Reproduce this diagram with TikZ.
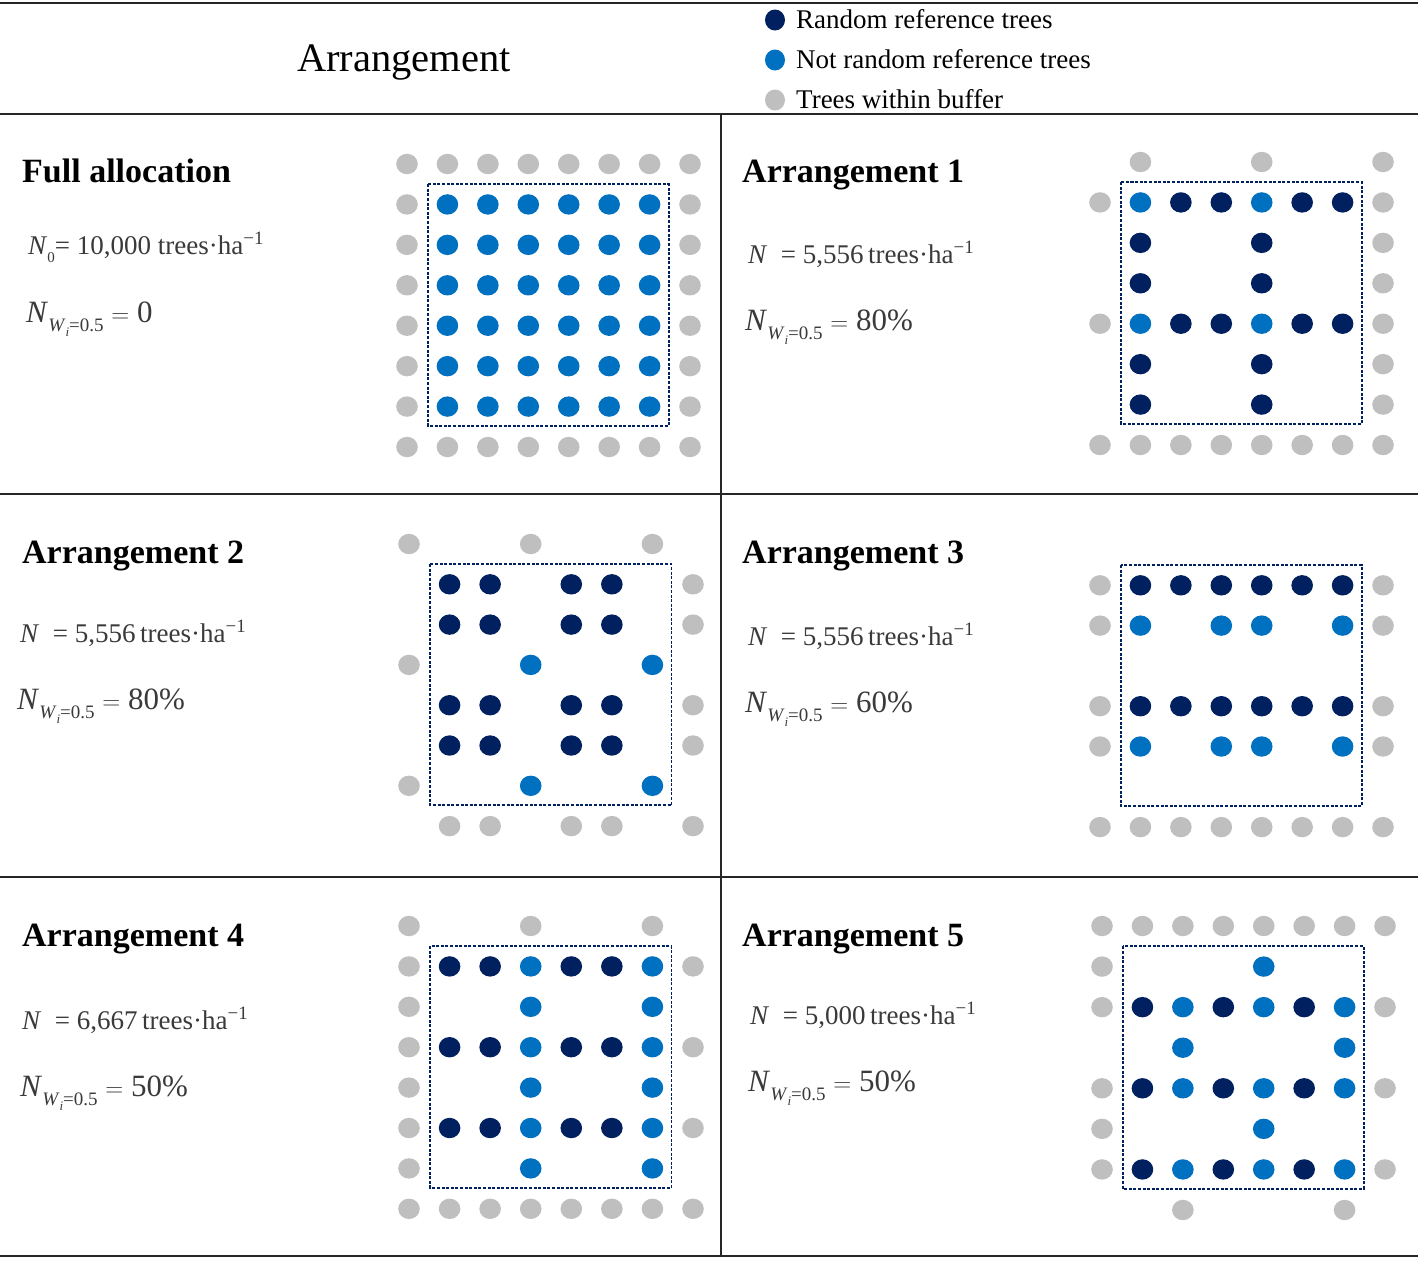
\documentclass[tikz,border=0pt]{standalone}
\usepackage{fontspec}
\setmainfont{Liberation Serif}
\usepackage{graphicx}
\definecolor{navy}{HTML}{002060}
\definecolor{lblue}{HTML}{0070C0}
\definecolor{bgray}{HTML}{BFBFBF}
\definecolor{ftext}{HTML}{3A3A3A}
\tikzset{
  rule/.style={line width=2pt, black!85},
  plotbox/.style={draw=navy, line width=1.9pt, dash pattern=on 3pt off 1.6pt},
  ptitle/.style={anchor=base west, inner sep=0pt, font=\fontsize{34}{40}\selectfont\bfseries},
  fline/.style={anchor=base west, inner sep=0pt, text=ftext, font=\fontsize{27}{30}\selectfont},
  wline/.style={anchor=base west, inner sep=0pt, text=ftext, font=\fontsize{31}{34}\selectfont},
  legtext/.style={anchor=base west, inner sep=0pt, font=\fontsize{27}{30}\selectfont},
}
\newcommand{\GD}[1]{\foreach \cc/\rr in {#1} \fill[bgray] (\cc,\rr) ellipse[x radius=10.8pt, y radius=10.2pt];}
\newcommand{\LD}[1]{\foreach \cc/\rr in {#1} \fill[lblue] (\cc,\rr) ellipse[x radius=10.8pt, y radius=10.2pt];}
\newcommand{\DD}[1]{\foreach \cc/\rr in {#1} \fill[navy] (\cc,\rr) ellipse[x radius=10.8pt, y radius=10.2pt];}
\newcommand{\PBOX}{\draw[plotbox] (0.52,0.5) rectangle (6.47,6.48);}
\newcommand{\NWsub}{\textit{N}\raisebox{-0.3em}{\fontsize{19}{19}\selectfont\textit{W}\raisebox{-0.26em}{\fontsize{13}{13}\selectfont\textit{i}}=0.5}}
\newcommand{\perha}{trees·ha\textsuperscript{−1}}
\begin{document}
\begin{tikzpicture}[x=1pt, y=-1pt]
\useasboundingbox (0,0) rectangle (1418,1262);
\fill[white] (0,0) rectangle (1418,1262);
% table rules
\coordinate (tl) at (0,3);   \coordinate (tr) at (1418,3);
\coordinate (hl) at (0,114); \coordinate (hr) at (1418,114);
\coordinate (m1l) at (0,494); \coordinate (m1r) at (1418,494);
\coordinate (m2l) at (0,877); \coordinate (m2r) at (1418,877);
\coordinate (bl) at (0,1256); \coordinate (br) at (1418,1256);
\coordinate (vt) at (721,114); \coordinate (vb) at (721,1256);
\draw[rule, line width=2.8pt] (tl) -- (tr);
\draw[rule, line width=2.8pt] (hl) -- (hr);
\draw[rule] (m1l) -- (m1r);
\draw[rule] (m2l) -- (m2r);
\draw[rule] (bl) -- (br);
\draw[rule] (vt) -- (vb);
% header
\node[anchor=base, inner sep=0pt, font=\fontsize{40.5}{46}\selectfont] (hdr) at (404,71) {Arrangement};
\fill[navy]  (775,20) ellipse[x radius=10pt, y radius=10.5pt];
\fill[lblue] (775,60) ellipse[x radius=10pt, y radius=10.5pt];
\fill[bgray] (775,100) ellipse[x radius=10pt, y radius=10.5pt];
\node[legtext] (lg1) at (796,28) {Random reference trees};
\node[legtext] (lg2) at (796,68) {Not random reference trees};
\node[legtext] (lg3) at (796,108) {Trees within buffer};
% ---------- Full allocation ----------
\node[ptitle] (t0) at (22,182) {Full allocation};
\node[fline] (a0) at (28,254) {\textit{N}\raisebox{-0.3em}{\fontsize{15}{15}\selectfont 0}= 10,000 \perha};
\node[wline] (b0) at (26,322) {\NWsub\ $=$ 0};
\begin{scope}[shift={(407pt,-164pt)}, x=40.43pt, y=-40.43pt]
\GD{0/0,1/0,2/0,3/0,4/0,5/0,6/0,7/0, 0/1,0/2,0/3,0/4,0/5,0/6, 7/1,7/2,7/3,7/4,7/5,7/6, 0/7,1/7,2/7,3/7,4/7,5/7,6/7,7/7}
\foreach \c in {1,...,6}{\foreach \r in {1,...,6}{\fill[lblue] (\c,\r) ellipse[x radius=10.8pt, y radius=10.2pt];}}
\PBOX
\end{scope}
% ---------- Arrangement 1 ----------
\node[ptitle] (t1) at (742,182) {Arrangement 1};
\node[fline] (a1) at (748,263) {\textit{N}\hspace{0.5em}= 5,556\,\perha};
\node[wline] (b1) at (745,330) {\NWsub\ $=$ 80\%};
\begin{scope}[shift={(1100pt,-162pt)}, x=40.43pt, y=-40.43pt]
\GD{1/0,4/0,7/0, 0/1,0/4, 7/1,7/2,7/3,7/4,7/5,7/6, 0/7,1/7,2/7,3/7,4/7,5/7,6/7,7/7}
\LD{1/1,4/1,1/4,4/4}
\DD{2/1,3/1,5/1,6/1,2/4,3/4,5/4,6/4, 1/2,1/3,1/5,1/6,4/2,4/3,4/5,4/6}
\PBOX
\end{scope}
% ---------- Arrangement 2 ----------
\node[ptitle] (t2) at (22,563) {Arrangement 2};
\node[fline] (a2) at (20,642) {\textit{N}\hspace{0.5em}= 5,556\,\perha};
\node[wline] (b2) at (17,709) {\NWsub\ $=$ 80\%};
\begin{scope}[shift={(409pt,-544pt)}, x=40.57pt, y=-40.3pt]
\GD{0/0,3/0,6/0, 7/1,7/2,0/3,7/4,7/5,0/6, 1/7,2/7,4/7,5/7,7/7}
\DD{1/1,2/1,4/1,5/1, 1/2,2/2,4/2,5/2, 1/4,2/4,4/4,5/4, 1/5,2/5,4/5,5/5}
\LD{3/3,6/3,3/6,6/6}
\PBOX
\end{scope}
% ---------- Arrangement 3 ----------
\node[ptitle] (t3) at (742,563) {Arrangement 3};
\node[fline] (a3) at (748,645) {\textit{N}\hspace{0.5em}= 5,556\,\perha};
\node[wline] (b3) at (745,712) {\NWsub\ $=$ 60\%};
\begin{scope}[shift={(1100pt,-545pt)}, x=40.43pt, y=-40.3pt]
\GD{0/1,7/1,0/2,7/2,0/4,7/4,0/5,7/5, 0/7,1/7,2/7,3/7,4/7,5/7,6/7,7/7}
\DD{1/1,2/1,3/1,4/1,5/1,6/1, 1/4,2/4,3/4,4/4,5/4,6/4}
\LD{1/2,3/2,4/2,6/2, 1/5,3/5,4/5,6/5}
\PBOX
\end{scope}
% ---------- Arrangement 4 ----------
\node[ptitle] (t4) at (22,946) {Arrangement 4};
\node[fline] (a4) at (22,1029) {\textit{N}\hspace{0.5em}= 6,667\,\perha};
\node[wline] (b4) at (20,1096) {\NWsub\ $=$ 50\%};
\begin{scope}[shift={(409pt,-926pt)}, x=40.57pt, y=-40.4pt]
\GD{0/0,3/0,6/0, 0/1,0/2,0/3,0/4,0/5,0/6, 7/1,7/3,7/5, 0/7,1/7,2/7,3/7,4/7,5/7,6/7,7/7}
\DD{1/1,2/1,4/1,5/1, 1/3,2/3,4/3,5/3, 1/5,2/5,4/5,5/5}
\LD{3/1,3/2,3/3,3/4,3/5,3/6, 6/1,6/2,6/3,6/4,6/5,6/6}
\PBOX
\end{scope}
% ---------- Arrangement 5 ----------
\node[ptitle] (t5) at (742,946) {Arrangement 5};
\node[fline] (a5) at (750,1024) {\textit{N}\hspace{0.5em}= 5,000\,\perha};
\node[wline] (b5) at (748,1091) {\NWsub\ $=$ 50\%};
\begin{scope}[shift={(1102pt,-926pt)}, x=40.43pt, y=-40.57pt]
\GD{0/0,1/0,2/0,3/0,4/0,5/0,6/0,7/0, 0/1,0/2,7/2,0/4,7/4,0/5,0/6,7/6, 2/7,6/7}
\DD{1/2,3/2,5/2, 1/4,3/4,5/4, 1/6,3/6,5/6}
\LD{4/1, 2/2,4/2,6/2, 2/3,6/3, 2/4,4/4,6/4, 4/5, 2/6,4/6,6/6}
\PBOX
\end{scope}
\end{tikzpicture}
\end{document}
